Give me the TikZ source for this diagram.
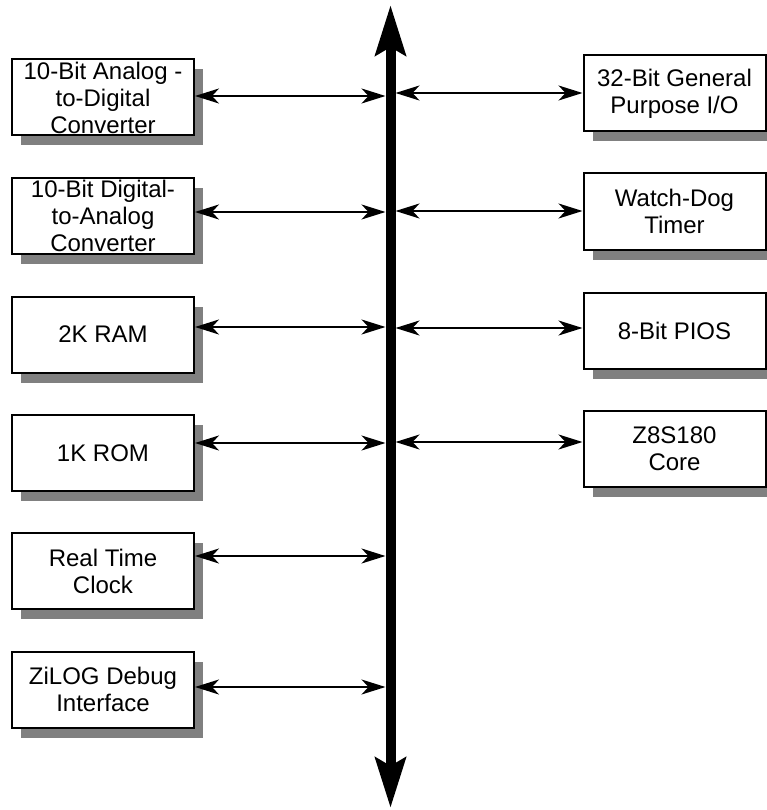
\documentclass[tikz,border=0pt]{standalone}
\usepackage{fontspec}
\setmainfont{Liberation Sans}
\usetikzlibrary{arrows.meta,shadows}
\definecolor{shadowgray}{RGB}{128,128,128}
\begin{document}
\begin{tikzpicture}[x=1pt,y=-1pt,
  blk/.style={draw, line width=2pt, fill=white, minimum width=182pt, minimum height=76pt,
    inner sep=0pt, align=center, font=\fontsize{24}{27}\selectfont,
    drop shadow={shadow xshift=9pt, shadow yshift=-10pt, fill=shadowgray, opacity=1}},
  conn/.style={line width=2pt, {Stealth[length=24pt,width=15pt,inset=7pt]}-{Stealth[length=24pt,width=15pt,inset=7pt]}},
  bus/.style={line width=10pt, {Stealth[length=50pt,width=30pt,inset=8pt]}-{Stealth[length=50pt,width=30pt,inset=8pt]}}]
\useasboundingbox (0,0) rectangle (767,810);
% left column
\node[blk] (L1) at (103,97.5) {10-Bit Analog -\\to-Digital\\Converter};
\node[blk] (L2) at (103,216) {10-Bit Digital-\\to-Analog\\Converter};
\node[blk] (L3) at (103,334.5) {2K RAM};
\node[blk] (L4) at (103,453) {1K ROM};
\node[blk] (L5) at (103,571) {Real Time\\Clock};
\node[blk] (L6) at (103,689.5) {ZiLOG Debug\\Interface};
% right column
\node[blk] (R1) at (674.5,93.5) {32-Bit General\\Purpose I/O};
\node[blk] (R2) at (674.5,211.5) {Watch-Dog\\Timer};
\node[blk] (R3) at (674.5,330.5) {8-Bit PIOS};
\node[blk] (R4) at (674.5,449) {Z8S180\\Core};
% bus
\coordinate (bustop) at (390.5,5);
\coordinate (busbot) at (390.5,808);
\coordinate (busL) at (385.5,0);
\coordinate (busR) at (395.5,0);
\draw[bus] (bustop) -- (busbot);
% connection points
\coordinate (a1) at ([yshift=1.5pt]L1.east);
\coordinate (a2) at ([yshift=4pt]L2.east);
\coordinate (a3) at ([yshift=7.5pt]L3.east);
\coordinate (a4) at ([yshift=10pt]L4.east);
\coordinate (a5) at ([yshift=15pt]L5.east);
\coordinate (a6) at ([yshift=2.5pt]L6.east);
\coordinate (b1) at ([yshift=0.5pt]R1.west);
\coordinate (b2) at ([yshift=0.5pt]R2.west);
\coordinate (b3) at ([yshift=2.5pt]R3.west);
\coordinate (b4) at ([yshift=7pt]R4.west);
\foreach \p in {a1,a2,a3,a4,a5,a6}{\draw[conn] (\p) -- (\p -| busL);}
\foreach \p in {b1,b2,b3,b4}{\draw[conn] (\p -| busR) -- (\p);}
\end{tikzpicture}
\end{document}
